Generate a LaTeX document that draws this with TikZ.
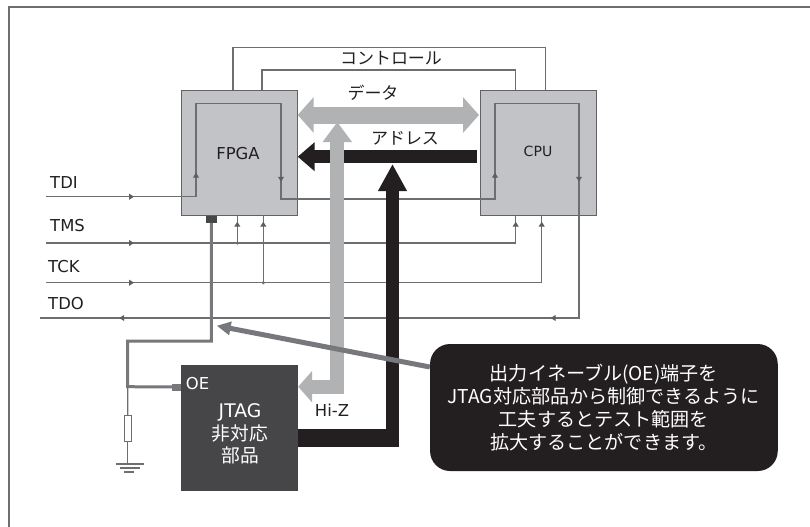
\documentclass[tikz,border=0pt]{standalone}
\usepackage{fontspec}
\setmainfont{DejaVu Sans}
\newfontfamily\cjk{Noto Sans CJK JP}
\usetikzlibrary{arrows.meta,calc,decorations.markings}

\definecolor{boxgray}{HTML}{C2C3C6}
\definecolor{busgray}{HTML}{B1B2B4}
\definecolor{partdark}{HTML}{464648}
\definecolor{inkblack}{HTML}{231F20}
\definecolor{sigline}{HTML}{6D6E70}
\definecolor{oeline}{HTML}{77787B}

\def\px{0.03cm}

\begin{document}
\begin{tikzpicture}[
  x=\px,y=-\px,
  font=\fontsize{14pt}{16pt}\selectfont,
  chip/.style={draw=partdark!85,line width=1.2*\px,fill=boxgray,minimum width=116*\px,minimum height=125*\px,
               inner sep=0pt,anchor=north west},
  pin/.style={fill=partdark,inner sep=0pt},
  lab/.style={inner sep=0pt,text=inkblack},
  kana/.style={lab,font=\cjk\fontsize{14.5pt}{16pt}\selectfont},
  sig/.style={draw=sigline,line width=1.1*\px},
  tipat/.style={postaction={decorate,decoration={markings,
      mark=at position #1*\px with {\arrow[sigline!85!black]{Triangle[length=4.2pt,width=5pt]}}}}},
  dot/.style={circle,fill=sigline,inner sep=0pt,minimum size=3pt},
  busgrey/.style={draw=busgray,line width=14*\px},
  busblack/.style={draw=inkblack,line width=13.5*\px},
  oewire/.style={draw=oeline,line width=3*\px},
]
\useasboundingbox (0,0) rectangle (810,526);

% frame, open on the right and at the bottom
\draw[draw=sigline,line width=2*\px] (9,530) -- (9,7) -- (812,7);

% ---------------- parts ----------------
\node[chip] (fpga) at (181,90) {};
\node[chip] (cpu)  at (480,90) {};
\node[chip,draw=partdark,fill=partdark] (part) at (181,365) {};
\node[lab] (fpgalab) at (238,153.5) {FPGA};
\node[lab,font=\fontsize{12pt}{14pt}\selectfont] (cpulab) at (538,151.5) {CPU};
\node[lab,text=white,align=center,font=\fontsize{16pt}{19.2pt}\selectfont] (partlab) at (240,434)
  {JTAG\\{\cjk 非対応}\\{\cjk 部品}};
\node[lab,text=white] (oelab) at (197.5,384) {OE};

% ---------------- signal labels ----------------
\node[lab,anchor=west] (tdilab) at (50,183) {TDI};
\node[lab,anchor=west] (tmslab) at (50,226) {TMS};
\node[lab,anchor=west] (tcklab) at (48,267) {TCK};
\node[lab,anchor=west] (tdolab) at (48,304) {TDO};
\node[kana] (ctllab) at (391,58) {コントロール};
\node[kana] (datalab) at (373,93) {データ};
\node[kana] (addrlab) at (405,138) {アドレス};
\node[lab] (hizlab) at (332,410) {Hi-Z};

% ---------------- junctions ----------------
\coordinate (tdi)  at (46,196.7);
\coordinate (tms)  at (46,243);
\coordinate (tck)  at (46,282.7);
\coordinate (tdo)  at (40,318);
\coordinate (fin)  at (196,103.7);
\coordinate (fout) at (281,103.7);
\coordinate (cin)  at (495,103.7);
\coordinate (cout) at (579,103.7);
\coordinate (oebend) at (127.7,341);
\coordinate (oetee)  at (127.7,386.7);

% ---------------- control ----------------
\draw[sig] (233,90) -- (233,47.7) -- (545.7,47.7) -- (545.7,90);
\draw[sig] (262,90) -- (262,70) -- (515.7,70) -- (515.7,90);

% ---------------- scan chain ----------------
\draw[sig,tipat=88,tipat=174,tipat=406,tipat=663.6,tipat=894.6,tipat=1059.2,tipat=1490.6]
  (tdi) -- (fin |- tdi) -- (fin) -- (fout) -- (281,199) -- (495,199) -- (cin) -- (cout) -- (579,318) -- (tdo);

% ---------------- TMS / TCK ----------------
\draw[sig,tipat=88,tipat=491] (tms) -- (515.7,243) -- (515.7,215);
\draw[sig,tipat=88,tipat=556.7] (tck) -- (541.7,282.7) -- (541.7,215);
\node[dot] (tmsdot) at (237.3,243) {};
\node[dot] (tckdot) at (263.3,282.7) {};
\draw[sig,tipat=21.3] (tmsdot.center) -- (237.3,215);
\draw[sig,tipat=61] (tckdot.center) -- (263.3,215);

% ---------------- buses ----------------
\draw[busblack,-{Triangle[length=17*\px,width=28*\px]}] (477,156.7) -- (297.7,156.7);
\draw[draw=busgray,line width=17*\px,{Triangle[length=16*\px,width=35*\px]}-{Triangle[length=16*\px,width=35*\px]}]
  (297.7,115) -- (479,115);
\draw[draw=inkblack,line width=18*\px] (part.east |- 0,437.5) -- (399.3,437.5);
\draw[busblack,-{Triangle[length=27*\px,width=27*\px]}] (392.5,446.5) -- (392.5,164);
\draw[busgrey,{Triangle[length=20*\px,width=28*\px]}-{Triangle[length=14*\px,width=31*\px]}]
  (337.3,122) -- (337.3,386.7) -- (part.east |- 0,386.7);

% ---------------- output enable ----------------
\node[pin,minimum width=10.7*\px,minimum height=6.7*\px] (oepinfpga) at (211.3,219.3) {};
\node[pin,fill=oeline,minimum width=9*\px,minimum height=7*\px] (oepin) at (176.5,387) {};
\draw[oewire] (oepinfpga) -- (oepinfpga |- oebend) -- (oebend) -- (oetee) -- (oepin);

% ---------------- pull-down ----------------
\node[draw=sigline,line width=1*\px,fill=white,minimum width=7*\px,minimum height=25.5*\px,inner sep=0pt] (res) at (127.8,428.5) {};
\coordinate (gnd) at (127.8,464);
\draw[sig] (oetee) -- (res);
\draw[sig] (res) -- (gnd);
\draw[sig] (115.7,464) -- (144,464);
\draw[sig] (120,468) -- (140,468);
\draw[sig] (124,472) -- (134,472);

% ---------------- note ----------------
\node[fill=inkblack,rounded corners=20*\px,minimum width=347.7*\px,minimum height=127*\px,inner sep=0pt,
      text=white,align=center,font=\cjk\fontsize{16.3pt}{19.6pt}\selectfont] (note) at (603.9,407.5)
  {出力イネーブル(OE)端子を\\JTAG対応部品から制御できるように\\工夫するとテスト範囲を\\拡大することができます。};
\draw[draw=oeline,line width=5*\px,-{Triangle[length=14*\px,width=13*\px]}] (note.west |- 0,367) -- (216.7,325.7);

\end{tikzpicture}
\end{document}
